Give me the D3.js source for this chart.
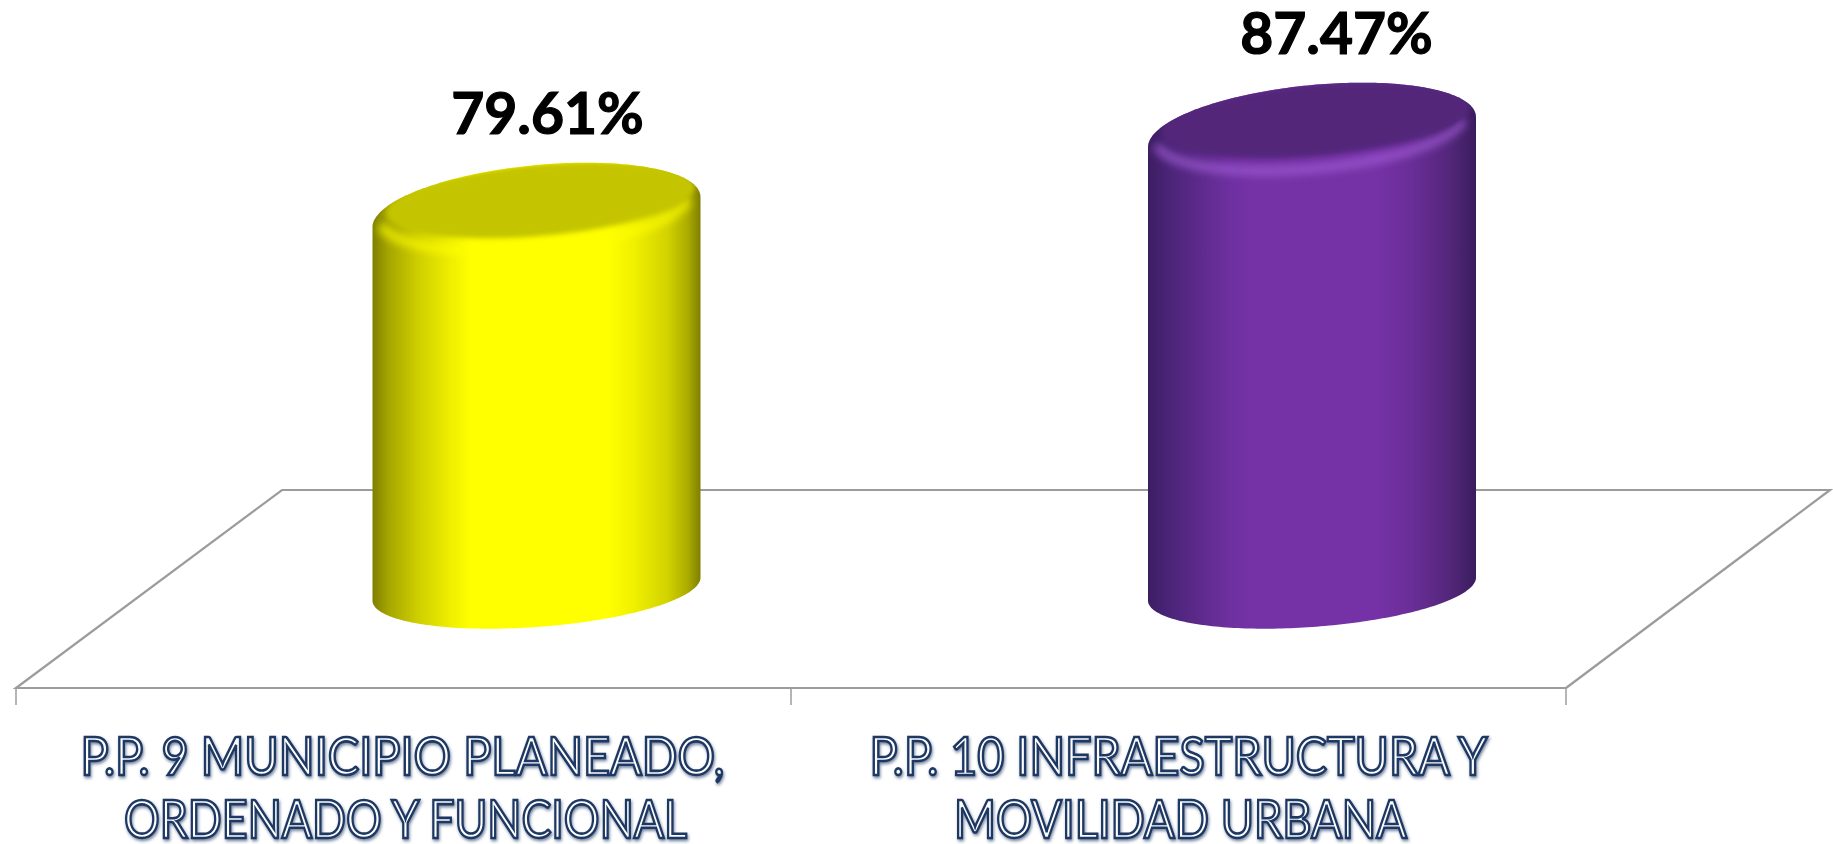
<!DOCTYPE html>
<html><head><meta charset="utf-8">
<script src="https://cdn.jsdelivr.net/npm/d3@7"></script>
<style>html,body{margin:0;padding:0;background:#fff;overflow:hidden}svg{display:block}</style>
</head><body><svg id="c" width="1833" height="844"></svg>
<script>
const categories = ["P.P. 9 MUNICIPIO PLANEADO, ORDENADO Y FUNCIONAL", "P.P. 10 INFRAESTRUCTURA Y MOVILIDAD URBANA"];
const categoryLines = [["P.P. 9 MUNICIPIO PLANEADO,", "ORDENADO Y FUNCIONAL"], ["P.P. 10 INFRAESTRUCTURA Y", "MOVILIDAD URBANA"]];
const values = [79.61, 87.47];
const valueLabels = ["79.61%", "87.47%"];
const sideStops = [
  [["0%","#7f7f00"],["5%","#a6a600"],["14%","#cfcf00"],["24%","#efef00"],["30%","#ffff00"],["72%","#ffff00"],["80%","#efef00"],["90%","#d2d200"],["96%","#acac00"],["100%","#7f7f00"]],
  [["0%","#3c1d61"],["6%","#4a2477"],["15%","#5c2a8a"],["25%","#6e30a0"],["32%","#7532a6"],["70%","#7532a6"],["80%","#6a2e98"],["90%","#582880"],["96%","#47226c"],["100%","#3a1c5d"]]
];
const capFill = ["#c4c400", "#52267a"];
const rimGlow = ["#ffff00", "#a45fd8"];

const svg = d3.select("#c");
const defs = svg.append("defs");
const x = d3.scaleBand().domain(categories).range([16, 1566]);
const y = d3.scaleLinear().domain([42.6, 87.47]).range([589, 132]);
const depth = 266, floorTop = 490, floorBottom = 688, halfW = 164, cylOffset = 133;

// floor
const grey = "#9c9c9c";
const floor = d3.line();
svg.append("path").attr("d", floor([[1566, floorBottom],[16, floorBottom],[16 + depth, floorTop],[1566 + depth - 2, floorTop],[1566, floorBottom]]))
  .attr("fill", "none").attr("stroke", grey).attr("stroke-width", 2.2);
[...categories.map(c => x(c)), x.range()[1]].forEach(t => {
  svg.append("line").attr("x1", t).attr("x2", t).attr("y1", floorBottom).attr("y2", 705).attr("stroke", grey).attr("stroke-width", 1.5);
});

// blur filters
defs.append("filter").attr("id", "blur").attr("x", "-10%").attr("y", "-30%").attr("width", "120%").attr("height", "160%")
  .append("feGaussianBlur").attr("stdDeviation", 4);
defs.append("filter").attr("id", "soft").attr("x", "-10%").attr("y", "-30%").attr("width", "120%").attr("height", "160%")
  .append("feGaussianBlur").attr("stdDeviation", 2.4);
const sh = defs.append("filter").attr("id", "shadow").attr("x", "-5%").attr("y", "-20%").attr("width", "110%").attr("height", "150%");
sh.append("feDropShadow").attr("dx", 1).attr("dy", 2).attr("stdDeviation", 1.5).attr("flood-color", "#1f3864").attr("flood-opacity", 0.6);

const curve = d3.line().curve(d3.curveLinear);
// tilted ellipse point: t=0 is the right end, t=PI the left end, PI..2PI runs over the top
const ep = (cx, cy, a, b, s, t) => [cx + a * Math.cos(t), cy - s * Math.cos(t) + b * Math.sin(t)];
const arcPts = (cx, cy, a, b, s, t0, t1) => d3.range(0, 121).map(i => ep(cx, cy, a, b, s, t0 + (t1 - t0) * i / 120));

categories.forEach((c, i) => {
  const cx = x(c) + x.bandwidth() / 2 + cylOffset + (i ? 0.5 : 0);
  const top = y(values[i]), base = y.range()[0];
  const g = svg.append("g");
  const lg = defs.append("linearGradient").attr("id", "side" + i).attr("gradientUnits", "userSpaceOnUse")
    .attr("x1", cx - halfW).attr("x2", cx + halfW).attr("y1", 0).attr("y2", 0);
  lg.selectAll("stop").data(sideStops[i]).enter().append("stop").attr("offset", d => d[0]).attr("stop-color", d => d[1]);

  const upper = arcPts(cx, top, halfW, 47, 15, Math.PI, 2 * Math.PI);
  const lower = arcPts(cx, base, halfW, 38, 11.5, 0, Math.PI);
  const outline = curve([...upper, ...lower]) + "Z";
  defs.append("clipPath").attr("id", "clip" + i).append("path").attr("d", outline);
  g.append("path").attr("d", outline).attr("fill", `url(#side${i})`);

  const inner = g.append("g").attr("clip-path", `url(#clip${i})`);
  // bright rim directly beneath the cap
  inner.append("path")
    .attr("d", curve(arcPts(cx - 2, top - 4, 154, 41, 13, 0.1, Math.PI - 0.1)))
    .attr("fill", "none").attr("stroke", rimGlow[i]).attr("stroke-width", 9).attr("opacity", 0.7).attr("filter", "url(#blur)");
  // cap
  inner.append("path")
    .attr("d", curve(arcPts(cx + 4, top - 12, 154, 36, 13, 0, 2 * Math.PI)) + "Z")
    .attr("fill", capFill[i]).attr("filter", "url(#soft)");
});

// value labels
const valueShift = [11, 25];
categories.forEach((c, i) => {
  const cx = x(c) + x.bandwidth() / 2 + cylOffset + valueShift[i];
  svg.append("text").attr("x", cx).attr("y", y(values[i]) - 78)
    .attr("text-anchor", "middle").attr("font-family", "Lato").attr("font-weight", 700).attr("font-size", 57)
    .attr("fill", "#000").attr("stroke", "#000").attr("stroke-width", 1.2).text(valueLabels[i]);
});

// category labels
const lineSpec = [[[644, 775],[563, 838]], [[618, 775],[453, 838]]];
const lineShift = [[-1, 2], [0, 2]];
categoryLines.forEach((lines, i) => {
  const c = categories[i];
  lines.forEach((t, j) => {
    svg.append("text").attr("x", x(c) + x.bandwidth() / 2 + lineShift[i][j]).attr("y", lineSpec[i][j][1])
      .attr("text-anchor", "middle").attr("font-family", "Lato").attr("font-size", 52)
      .attr("textLength", lineSpec[i][j][0]).attr("lengthAdjust", "spacingAndGlyphs")
      .attr("fill", "#fff").attr("stroke", "#1f3864").attr("stroke-width", 2.6).attr("filter", "url(#shadow)").text(t);
  });
});
</script></body></html>
